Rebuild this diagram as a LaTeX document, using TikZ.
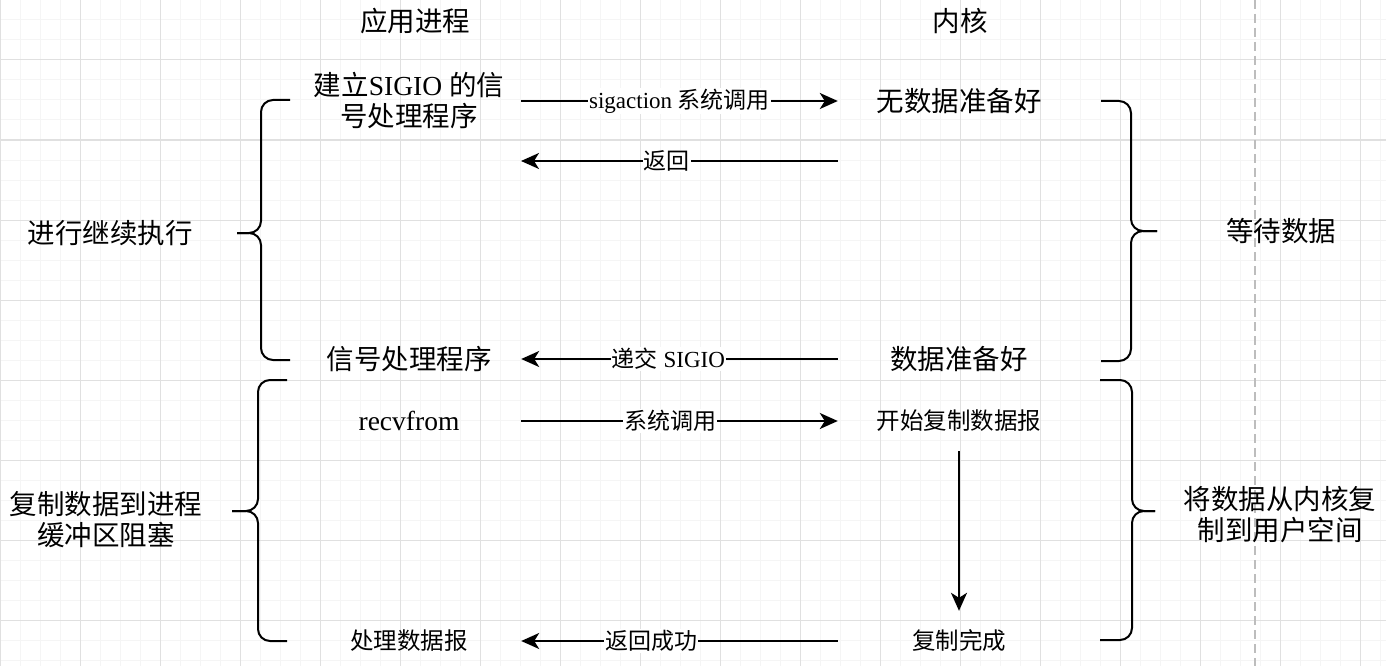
\documentclass[tikz,border=0pt]{standalone}
\usepackage{fontspec}
\setmainfont{Liberation Serif}
\newfontfamily\zhfont{Noto Sans CJK SC}
\newcommand{\zh}[1]{{\zhfont #1}}
\usetikzlibrary{arrows.meta}
\definecolor{gridmajor}{HTML}{E0E0E0}
\definecolor{gridminor}{HTML}{F5F5F5}
\definecolor{dashgray}{HTML}{BDBDBD}
\tikzset{
    big-text/.style = {font=\fontsize{27.5}{31}\selectfont, align=center, inner sep=0pt},
    small-text/.style = {font=\fontsize{23.5}{28}\selectfont, align=center, inner sep=0pt},
    app-node/.style = {minimum width=224pt, minimum height=60pt},
    kernel-node/.style = {minimum width=242pt, minimum height=60pt},
    msg-arrow/.style = {line width=2pt, -{Stealth[length=18pt, width=16pt, inset=5pt]}},
    msg-label/.style = {fill=white, font=\fontsize{23}{26}\selectfont, inner sep=1pt},
    brace-line/.style = {line width=2pt, rounded corners=12pt},
}

\begin{document}
\begin{tikzpicture}[x=1pt, y=-1pt]
\useasboundingbox (0,0) rectangle (1386,666);
\fill[white] (0,0) rectangle (1386,666);
% background grid
\foreach \gx in {0,20,...,1380} \draw[gridminor, line width=1pt] (\gx,0) -- (\gx,666);
\foreach \gy in {0,20,...,660} \draw[gridminor, line width=1pt] (0,\gy) -- (1386,\gy);
\foreach \gx in {0,80,...,1360} \draw[gridmajor, line width=1pt] (\gx,0) -- (\gx,666);
\foreach \gy in {60,140,...,620} \draw[gridmajor, line width=1pt] (0,\gy) -- (1386,\gy);
\draw[dashgray, line width=2pt, dash pattern=on 9pt off 5pt] (1255,0) -- (1255,666);

% column titles
\node[big-text] (app) at (415,21) {\zh{应用进程}};
\node[big-text] (kernel) at (960,21) {\zh{内核}};

% application side
\node[big-text, app-node] (setup) at (409,101) {\zh{建立}SIGIO \zh{的信}\\\zh{号处理程序}};
\node[big-text, app-node] (handler) at (409,359) {\zh{信号处理程序}};
\node[big-text, app-node] (recv) at (409,421) {recvfrom};
\node[small-text, app-node] (process) at (409,641) {\zh{处理数据报}};

% kernel side
\node[big-text, kernel-node] (nodata) at (959,101) {\zh{无数据准备好}};
\node[big-text, kernel-node] (ready) at (959,359) {\zh{数据准备好}};
\node[small-text, kernel-node] (copystart) at (959,421) {\zh{开始复制数据报}};
\node[small-text, kernel-node] (copydone) at (959,641) {\zh{复制完成}};

% phase texts
\node[big-text] (cont) at (110,233) {\zh{进行继续执行}};
\node[big-text] (block) at (106,520) {\zh{复制数据到进程}\\\zh{缓冲区阻塞}};
\node[big-text] (wait) at (1281,231) {\zh{等待数据}};
\node[big-text] (copyk) at (1280,515) {\zh{将数据从内核复}\\\zh{制到用户空间}};

% messages
\coordinate (ret-k) at (838,161);
\coordinate (ret-a) at (521,161);
\draw[msg-arrow] (setup.east) -- node[msg-label] {sigaction \zh{系统调用}} (nodata.west);
\draw[msg-arrow] (ret-k) -- node[msg-label, pos=0.54] {\zh{返回}} (ret-a);
\draw[msg-arrow] (ready.west) -- node[msg-label, pos=0.535] {\zh{递交} SIGIO} (handler.east);
\draw[msg-arrow] (recv.east) -- node[msg-label, pos=0.47] {\zh{系统调用}} (copystart.west);
\draw[msg-arrow] (copystart.south) -- (copydone.north);
\draw[msg-arrow] (copydone.west) -- node[msg-label, pos=0.59] {\zh{返回成功}} (process.east);

% braces
\draw[brace-line] (290,100) -- (261,100) -- (261,233) -- (237,233);
\draw[brace-line] (237,233) -- (261,233) -- (261,360) -- (290,360);
\draw[brace-line] (287,380) -- (258,380) -- (258,511) -- (232,511);
\draw[brace-line] (232,511) -- (258,511) -- (258,641) -- (287,641);
\draw[brace-line] (1101,101) -- (1131,101) -- (1131,231) -- (1157,231);
\draw[brace-line] (1157,231) -- (1131,231) -- (1131,361) -- (1101,361);
\draw[brace-line] (1100,380) -- (1132,380) -- (1132,511) -- (1155,511);
\draw[brace-line] (1155,511) -- (1132,511) -- (1132,640) -- (1100,640);
\end{tikzpicture}
\end{document}
